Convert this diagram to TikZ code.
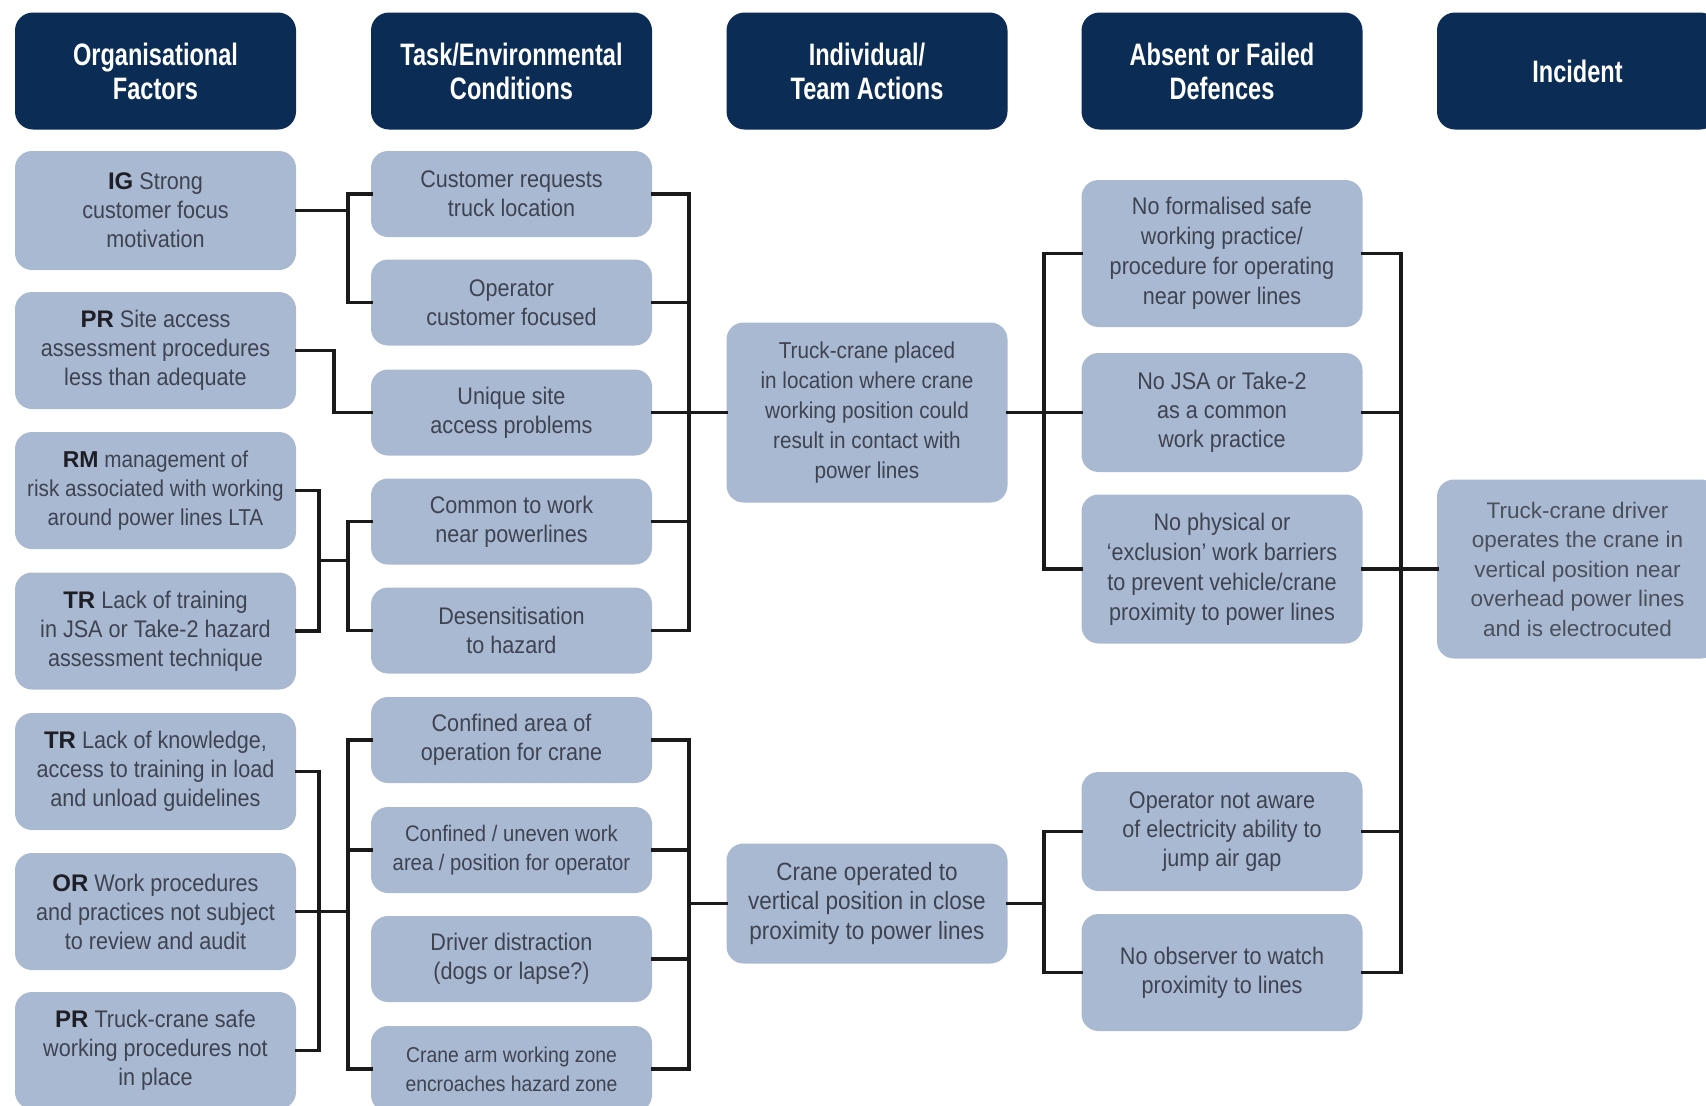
\documentclass[tikz,border=0pt]{standalone}
\usepackage{fontspec}
\setmainfont{Liberation Sans}[FakeStretch=0.9]
\newfontfamily\hdfont{Liberation Sans}[FakeStretch=0.76]
\newfontfamily\incfont{Liberation Sans}
\definecolor{hdnavy}{HTML}{0B2C54}
\definecolor{boxfill}{HTML}{AAB9D2}
\definecolor{boxtext}{HTML}{3E4352}
\definecolor{inctext}{HTML}{4A4F5C}
\definecolor{codetext}{HTML}{1E1F26}
\definecolor{wirecol}{HTML}{1A1A1A}
\newcommand\orgcode[1]{{\incfont\bfseries\color{codetext}#1}}
\begin{document}
\begin{tikzpicture}[x=1pt,y=-1pt,
 hdr/.style={fill=hdnavy, rounded corners=18pt, minimum width=281pt, minimum height=117pt,
   text=white, font=\hdfont\bfseries\fontsize{31}{34}\selectfont, align=center, inner sep=0pt},
 box/.style={fill=boxfill, rounded corners=17pt, minimum width=281pt, text=boxtext,
   font=\fontsize{24}{29}\selectfont, align=center, inner sep=0pt},
 wire/.style={draw=wirecol, line width=3.4pt, line cap=rect}]
\fill[white] (0,0) rectangle (1706,1106);
\useasboundingbox (0,0) rectangle (1706,1106);

% headers
\node[hdr] (h1) at (155.5,71) {Organisational\\Factors};
\node[hdr] (h2) at (511.5,71) {Task/Environmental\\Conditions};
\node[hdr] (h3) at (867,71) {Individual/\\Team Actions};
\node[hdr] (h4) at (1222,71) {Absent or Failed\\Defences};
\node[hdr] (h5) at (1577.5,71) {Incident};

% column 1
\node[box, minimum height=119pt] (o1) at (155.5,210.5) {\orgcode{IG} Strong\\customer focus\\motivation};
\node[box, minimum height=117pt] (o2) at (155.5,350.5) {\orgcode{PR} Site access\\assessment procedures\\less than adequate};
\node[box, minimum height=117pt, font=\fontsize{23}{29}\selectfont] (o3) at (155.5,490.5) {\orgcode{RM} management of\\risk associated with working\\around power lines LTA};
\node[box, minimum height=117pt] (o4) at (155.5,631) {\orgcode{TR} Lack of training\\in JSA or Take-2 hazard\\assessment technique};
\node[box, minimum height=117pt] (o5) at (155.5,771.5) {\orgcode{TR} Lack of knowledge,\\access to training in load\\and unload guidelines};
\node[box, minimum height=117pt] (o6) at (155.5,911.5) {\orgcode{OR} Work procedures\\and practices not subject\\to review and audit};
\node[box, minimum height=117pt] (o7) at (155.5,1050.5) {\orgcode{PR} Truck-crane safe\\working procedures not\\in place};

% column 2
\node[box, minimum height=86pt] (t1) at (511.5,194) {Customer requests\\truck location};
\node[box, minimum height=86pt] (t2) at (511.5,302.5) {Operator\\customer focused};
\node[box, minimum height=86pt] (t3) at (511.5,412.5) {Unique site\\access problems};
\node[box, minimum height=86pt] (t4) at (511.5,521.5) {Common to work\\near powerlines};
\node[box, minimum height=86pt] (t5) at (511.5,630.5) {Desensitisation\\to hazard};
\node[box, minimum height=86pt] (t6) at (511.5,740) {Confined area of\\operation for crane};
\node[box, minimum height=86pt, font=\fontsize{22.5}{29}\selectfont] (t7) at (511.5,850) {Confined / uneven work\\area / position for operator};
\node[box, minimum height=86pt] (t8) at (511.5,959) {Driver distraction\\(dogs or lapse?)};
\node[box, minimum height=86pt, font=\fontsize{21.5}{29}\selectfont] (t9) at (511.5,1069) {Crane arm working zone\\encroaches hazard zone};

% column 3
\node[box, minimum height=180pt, font=\fontsize{23}{30}\selectfont] (a1) at (867,412.5) {Truck-crane placed\\in location where crane\\working position could\\result in contact with\\power lines};
\node[box, minimum height=120pt, font=\fontsize{25}{29.5}\selectfont] (a2) at (867,903.5) {Crane operated to\\vertical position in close\\proximity to power lines};

% column 4
\node[box, minimum height=147pt, font=\fontsize{24}{30}\selectfont] (d1) at (1222,253.5) {No formalised safe\\working practice/\\procedure for operating\\near power lines};
\node[box, minimum height=119pt] (d2) at (1222,412.5) {No JSA or Take-2\\as a common\\work practice};
\node[box, minimum height=149pt, font=\fontsize{24}{30}\selectfont] (d3) at (1222,569) {No physical or\\`exclusion' work barriers\\to prevent vehicle/crane\\proximity to power lines};
\node[box, minimum height=119pt] (d4) at (1222,831.5) {Operator not aware\\of electricity ability to\\jump air gap};
\node[box, minimum height=117pt] (d5) at (1222,972.5) {No observer to watch\\proximity to lines};

% column 5
\node[box, minimum height=179pt, text=inctext, font=\incfont\fontsize{22.5}{29.5}\selectfont] (inc) at (1577.5,569) {Truck-crane driver\\operates the crane in\\vertical position near\\overhead power lines\\and is electrocuted};

% junction x positions
\coordinate (xA) at (319,0);
\coordinate (xP) at (334,0);
\coordinate (xB) at (348,0);
\coordinate (xC) at (689,0);
\coordinate (xD) at (1044,0);
\coordinate (xE) at (1401,0);

% col1 -> col2 (top)
\draw[wire] (o1.east) -- (o1.east -| xB);
\draw[wire] (t1.west) -- (t1.west -| xB) -- (t2.west -| xB) -- (t2.west);
\draw[wire] (o2.east) -- (o2.east -| xP) -- (t3.west -| xP) -- (t3.west);
\draw[wire] (o3.east) -- (o3.east -| xA) -- (o4.east -| xA) -- (o4.east);
\path (o3.east -| xA) -- (o4.east -| xA) coordinate[pos=0.5] (j34);
\draw[wire] (j34) -- (j34 -| xB);
\draw[wire] (t4.west) -- (t4.west -| xB) -- (t5.west -| xB) -- (t5.west);

% col1 -> col2 (bottom)
\draw[wire] (o5.east) -- (o5.east -| xA) -- (o7.east -| xA) -- (o7.east);
\draw[wire] (o6.east) -- (o6.east -| xA);
\draw[wire] (o6.east -| xA) -- (o6.east -| xB);
\draw[wire] (t6.west) -- (t6.west -| xB) -- (t9.west -| xB) -- (t9.west);
\draw[wire] (t7.west) -- (t7.west -| xB);

% col2 -> col3
\draw[wire] (t1.east) -- (t1.east -| xC) -- (t5.east -| xC) -- (t5.east);
\draw[wire] (t2.east) -- (t2.east -| xC);
\draw[wire] (t3.east) -- (t3.east -| xC);
\draw[wire] (t4.east) -- (t4.east -| xC);
\draw[wire] (a1.west -| xC) -- (a1.west);
\draw[wire] (t6.east) -- (t6.east -| xC) -- (t9.east -| xC) -- (t9.east);
\draw[wire] (t7.east) -- (t7.east -| xC);
\draw[wire] (t8.east) -- (t8.east -| xC);
\draw[wire] (a2.west -| xC) -- (a2.west);

% col3 -> col4
\draw[wire] (a1.east) -- (a1.east -| xD);
\draw[wire] (d1.west) -- (d1.west -| xD) -- (d3.west -| xD) -- (d3.west);
\draw[wire] (d2.west) -- (d2.west -| xD);
\draw[wire] (a2.east) -- (a2.east -| xD);
\draw[wire] (d4.west) -- (d4.west -| xD) -- (d5.west -| xD) -- (d5.west);

% col4 -> col5
\draw[wire] (d1.east) -- (d1.east -| xE) -- (d5.east -| xE) -- (d5.east);
\draw[wire] (d2.east) -- (d2.east -| xE);
\draw[wire] (d3.east) -- (d3.east -| xE);
\draw[wire] (d4.east) -- (d4.east -| xE);
\draw[wire] (inc.west -| xE) -- (inc.west);
\end{tikzpicture}
\end{document}
